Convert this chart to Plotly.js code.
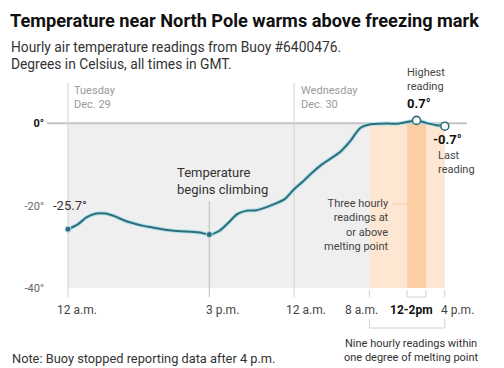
<!DOCTYPE html>
<html>
<head>
<meta charset="utf-8">
<script src="https://cdn.plot.ly/plotly-3.0.1.min.js"></script>
<style>html,body{margin:0;padding:0;background:#fff;}#chart{width:504px;height:368px;}</style>
</head>
<body>
<div id="chart"></div>
<script>
// Hours since 12 a.m. Tuesday, Dec. 29 (GMT)
const hours = [0,1,2,3,4,5,6,7,8,9,10,11,12,13,14,15,16,17,18,19,20,21,22,23,24,25,26,27,28,29,30,31,32,33,34,35,36,37,38,39,40];
// Hourly air temperature, degrees Celsius
const tempC = [-25.7,-24.6,-22.8,-21.9,-21.9,-22.6,-23.6,-24.3,-24.9,-25.3,-25.7,-26.0,-26.2,-26.3,-26.5,-27.0,
               -26.2,-24.2,-22.0,-21.2,-21.1,-20.4,-19.5,-18.4,-16.0,-14.0,-11.8,-9.9,-8.4,-6.7,-4.2,-1.2,
               -0.3,-0.1,-0.05,-0.1,0.3,0.7,0.1,-0.4,-0.7];
const xTickHours = [0, 15, 24, 32, 37, 40];
const xTickLabels = ['12 a.m.', '3 p.m.', '12 a.m.', '8 a.m.', '<b>12-2pm</b>', '4 p.m.'];
const yTickVals = [0, -20, -40];
const yTickLabels = ['<b><span style="color:#111">0°</span></b>', '-20°', '-40°'];
const dayStartHours = [0, 24];
const dayLabels = ['Tuesday<br>Dec. 29', 'Wednesday<br>Dec. 30'];
const withinOneDegree = [32, 40];   // 8 a.m. - 4 p.m.
const atOrAbove = [36, 38];         // 12 - 2 p.m.
const climbStartHour = 15;
const highestIdx = 37;
const lastIdx = 40;

// pixel helpers (plot area fills figure)
const W = 504, H = 368;
const X0 = 68, PXH = 9.42, Y0 = 123.3, PXD = 4.12;
const xr = [-X0 / PXH, (W - X0) / PXH];
const yr = [(Y0 - H) / PXD, Y0 / PXD];
const hx = px => (px - X0) / PXH;
const ty = py => (Y0 - py) / PXD;

const FONT = 'Roboto, "Liberation Sans", sans-serif';
const teal = '#2f6f78';

const traces = [
  {x: hours, y: tempC, mode: 'lines', line: {color: '#b3e1ee', width: 4, shape: 'spline', smoothing: 0.8}, hoverinfo: 'skip', showlegend: false},
  {x: hours, y: tempC, mode: 'lines', line: {color: teal, width: 2, shape: 'spline', smoothing: 0.8}, showlegend: false},
  {x: [hours[0], hours[climbStartHour]], y: [tempC[0], tempC[climbStartHour]], mode: 'markers',
   marker: {color: teal, size: 6, line: {color: '#b3e1ee', width: 1}}, showlegend: false},
  {x: [hours[highestIdx], hours[lastIdx]], y: [tempC[highestIdx], tempC[lastIdx]], mode: 'markers',
   marker: {color: '#ffffff', size: 8, line: {color: teal, width: 1.6}}, showlegend: false}
];

const gridC = '#d2d2d2';
const shapes = [
  {type: 'rect', layer: 'below', xref: 'x', yref: 'y', x0: 0, x1: 40, y0: -40, y1: 0, fillcolor: '#efefef', line: {width: 0}},
  {type: 'rect', layer: 'below', xref: 'x', yref: 'y', x0: withinOneDegree[0], x1: withinOneDegree[1], y0: -40, y1: 0, fillcolor: '#fde7d3', line: {width: 0}},
  {type: 'rect', layer: 'below', xref: 'x', yref: 'y', x0: atOrAbove[0], x1: atOrAbove[1], y0: -40, y1: 0, fillcolor: '#fccea4', line: {width: 0}},
  {type: 'line', layer: 'below', xref: 'x', yref: 'y', x0: hx(47), x1: hx(467), y0: 0, y1: 0, line: {color: '#c4c4c4', width: 2}},
  {type: 'line', layer: 'below', xref: 'x', yref: 'y', x0: dayStartHours[0], x1: dayStartHours[0], y0: ty(83), y1: ty(297), line: {color: gridC, width: 1}},
  {type: 'line', layer: 'below', xref: 'x', yref: 'y', x0: dayStartHours[1], x1: dayStartHours[1], y0: ty(83), y1: ty(297), line: {color: gridC, width: 1}},
  {type: 'line', layer: 'below', xref: 'x', yref: 'y', x0: climbStartHour, x1: climbStartHour, y0: ty(201), y1: ty(297), line: {color: '#bdbdbd', width: 1}},
  {type: 'line', xref: 'x', yref: 'y', x0: withinOneDegree[0], x1: withinOneDegree[0], y0: ty(290), y1: ty(297), line: {color: gridC, width: 1}},
  {type: 'line', xref: 'x', yref: 'y', x0: withinOneDegree[1], x1: withinOneDegree[1], y0: ty(290), y1: ty(297), line: {color: gridC, width: 1}},
  {type: 'path', xref: 'x', yref: 'y', path: `M ${atOrAbove[0]} ${ty(290)} L ${atOrAbove[0]} ${ty(297)} L ${atOrAbove[1]} ${ty(297)} L ${atOrAbove[1]} ${ty(290)}`, line: {color: gridC, width: 1}},
  {type: 'path', xref: 'x', yref: 'y', path: `M ${withinOneDegree[0]} ${ty(319)} L ${withinOneDegree[0]} ${ty(328)} L ${withinOneDegree[1]} ${ty(328)} L ${withinOneDegree[1]} ${ty(319)}`, line: {color: gridC, width: 1}},
  {type: 'line', xref: 'x', yref: 'y', x0: hx(392), x1: atOrAbove[0], y0: ty(204), y1: ty(204), line: {color: '#f3c9a3', width: 1}}
];

function ann(text, px, py, opts) {
  return Object.assign({text: text, xref: 'paper', yref: 'paper', x: px / W, y: 1 - py / H,
    xanchor: 'left', yanchor: 'middle', showarrow: false, align: 'left',
    font: {family: FONT, size: 12, color: '#333'}}, opts || {});
}

// x tick labels (placed under their ticks, nudged in pixels as in the original)
const tickShiftPx = [9, 13, 12, -8, -5, 13];
const tickAnns = xTickHours.map((h, i) => ({
  text: xTickLabels[i], xref: 'x', yref: 'y', x: h + tickShiftPx[i] / PXH, y: ty(310),
  xanchor: 'center', yanchor: 'middle', showarrow: false,
  font: {family: FONT, size: 12, color: i === 4 ? '#111' : '#444'}
}));

const annotations = [
  ann('<b>Temperature near North Pole warms above freezing mark</b>', 8, 21, {font: {family: FONT, size: 18.2, color: '#111'}}),
  ann('Hourly air temperature readings from Buoy #6400476.', 9, 47, {font: {family: FONT, size: 13.8, color: '#333'}}),
  ann('Degrees in Celsius, all times in GMT.', 9, 64, {font: {family: FONT, size: 13.8, color: '#333'}}),
  ann(dayLabels[0], 72, 97, {font: {family: FONT, size: 11, color: '#9a9a9a'}}),
  ann(dayLabels[1], 299, 97.5, {font: {family: FONT, size: 11, color: '#9a9a9a'}}),
  ann('Highest<br>reading', 405, 80, {font: {family: FONT, size: 11, color: '#444'}}),
  ann('<b>' + tempC[highestIdx].toFixed(1) + '°</b>', 405, 103, {font: {family: FONT, size: 13, color: '#111'}}),
  ann('<b>' + tempC[lastIdx].toFixed(1) + '°</b>', 431, 139, {font: {family: FONT, size: 13, color: '#111'}}),
  ann('Last<br>reading', 436, 162, {font: {family: FONT, size: 11, color: '#444'}}),
  ann(tempC[0].toFixed(1) + '°', 70, 205, {xanchor: 'center', font: {family: FONT, size: 13, color: '#333'}}),
  ann('Temperature<br>begins climbing', 175, 181, {font: {family: FONT, size: 13, color: '#333'}}),
  ann('Three hourly<br>readings at<br>or above<br>melting point', 391, 225, {xanchor: 'right', align: 'right', font: {family: FONT, size: 11, color: '#444'}}),
  ann('Nine hourly readings within<br>one degree of melting point', 411.5, 350, {xanchor: 'center', align: 'center', font: {family: FONT, size: 11, color: '#333'}}),
  ann('Note: Buoy stopped reporting data after 4 p.m.', 10, 358, {font: {family: FONT, size: 12.8, color: '#333'}})
].concat(tickAnns);

const layout = {
  width: W, height: H,
  margin: {l: 0, r: 0, t: 0, b: 0},
  paper_bgcolor: '#fff', plot_bgcolor: 'rgba(0,0,0,0)',
  showlegend: false,
  xaxis: {range: xr, showgrid: false, zeroline: false, showline: false, showticklabels: false,
          ticks: '', fixedrange: true, automargin: false},
  yaxis: {range: yr, anchor: 'free', position: 44 / W, showgrid: false, zeroline: false, showline: false,
          ticks: '', tickmode: 'array', tickvals: yTickVals, ticktext: yTickLabels,
          tickfont: {family: FONT, size: 11, color: '#666'}, fixedrange: true, automargin: false},
  shapes: shapes,
  annotations: annotations
};

Plotly.newPlot('chart', traces, layout, {displayModeBar: false, staticPlot: true});
</script>
</body>
</html>
